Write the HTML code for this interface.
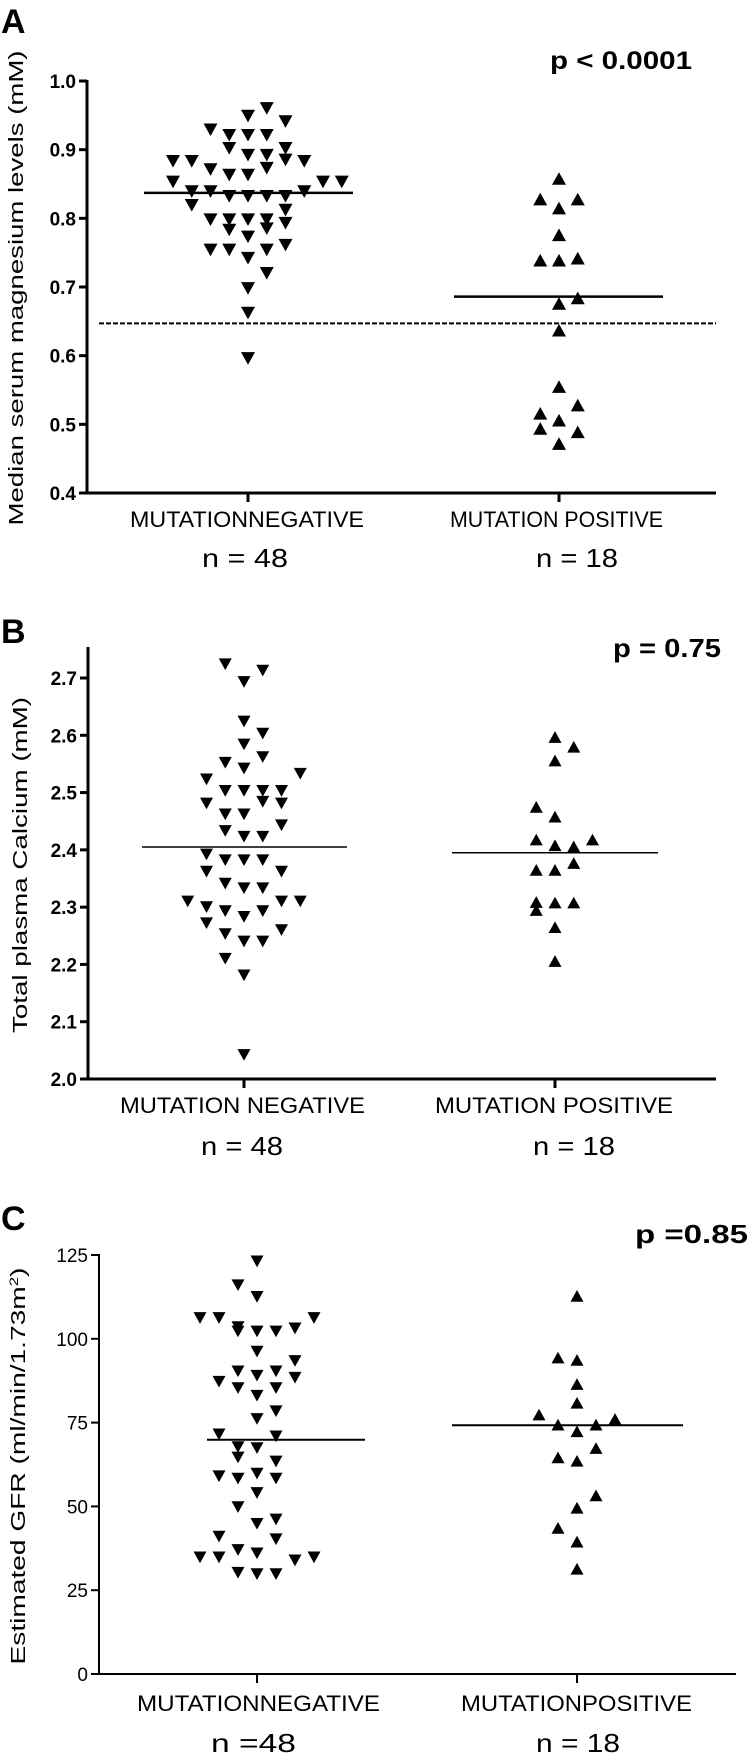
<!DOCTYPE html>
<html><head><meta charset="utf-8">
<style>
html,body{margin:0;padding:0;background:#fff;}
svg{display:block;}
text{font-family:"Liberation Sans Narrow","Liberation Sans",sans-serif;fill:#000;}
</style></head>
<body>
<svg id="fig" width="750" height="1756" viewBox="0 0 750 1756" xmlns="http://www.w3.org/2000/svg"></svg>
<script>
// ---- Panel A data (serum magnesium, mM) ----
const aNegVals=[0.96,0.949,0.941,0.929,0.921,0.921,0.921,0.902,0.902,0.892,0.892,0.885,0.883,0.883,0.883,0.873,0.871,0.863,0.863,0.853,0.853,0.853,0.839,0.839,0.839,0.832,0.832,0.832,0.832,0.819,0.812,0.798,0.798,0.798,0.798,0.793,0.783,0.785,0.773,0.761,0.754,0.754,0.754,0.742,0.72,0.698,0.662,0.596];
const aNegCols=[1,0,2,-2,-1,0,1,-1,2,0,1,2,-4,-3,3,1,-2,-1,0,-4,4,5,-3,-2,3,-1,0,1,2,-3,2,-2,-1,0,1,2,-1,1,0,2,-2,-1,1,0,1,0,0,0];
const aPosVals=[0.858,0.828,0.828,0.815,0.776,0.739,0.739,0.742,0.684,0.676,0.637,0.555,0.528,0.516,0.506,0.494,0.489,0.472];
const aPosCols=[0,-1,1,0,0,-1,0,1,1,0,0,0,1,-1,0,-1,1,0];
const aMedians=[0.837,0.686];
const aRef=0.647;
const aTicks=["0.4","0.5","0.6","0.7","0.8","0.9","1.0"];
// ---- Panel B data (plasma calcium, mM) ----
const bNegVals=[2.724,2.713,2.693,2.624,2.603,2.584,2.562,2.552,2.542,2.533,2.523,2.503,2.503,2.503,2.503,2.481,2.484,2.481,2.462,2.462,2.443,2.433,2.423,2.423,2.392,2.382,2.382,2.382,2.362,2.362,2.341,2.333,2.333,2.31,2.31,2.31,2.3,2.293,2.293,2.283,2.272,2.26,2.253,2.24,2.24,2.21,2.181,2.042];
const bNegCols=[-1,1,0,0,1,0,1,-1,0,3,-2,-1,0,1,2,-2,1,2,-1,0,2,-1,0,1,-2,-1,0,1,-2,2,-1,0,1,-3,2,3,-2,-1,1,0,-2,2,-1,0,1,-1,0,0];
const bPosVals=[2.597,2.58,2.556,2.475,2.458,2.418,2.418,2.408,2.406,2.377,2.365,2.365,2.309,2.308,2.308,2.295,2.265,2.206];
const bPosCols=[0,1,0,-1,0,-1,2,0,1,1,-1,0,-1,0,1,-1,0,0];
const bMedians=[2.405,2.395];
const bTicks=["2.0","2.1","2.2","2.3","2.4","2.5","2.6","2.7"];
// ---- Panel C data (eGFR) ----
const cNegVals=[123.1,116,112.5,106.2,106.2,106.2,103.5,103.1,102.2,102.2,102.2,96.2,93.4,90.3,90.3,89,88.4,87.2,85.3,85.3,83,78.4,76.1,71.5,70.9,67.7,67.4,64.6,63.4,59,58.3,59.8,58.3,54,49.8,46.1,44.8,41,40.2,34.8,34.8,37,36,33.9,34.8,30.2,29.8,29.8];
const cNegCols=[0,-1,0,-3,-2,3,-1,2,-1,0,1,0,2,-1,1,0,2,-2,-1,1,0,1,0,-2,1,-1,0,-1,1,-2,-1,0,1,0,-1,1,0,-2,1,-3,-2,-1,0,2,3,-1,0,1];
const cPosVals=[112.8,94.4,93.7,86.5,80.9,77.4,76.1,74.4,74.4,72.4,67.4,64.6,63.6,53.3,49.6,43.6,39.5,31.4];
const cPosCols=[0,-1,0,0,0,-2,2,-1,1,0,1,-1,0,1,0,-1,0,0];
const cMedians=[69.9,74.2];
const cTicks=["0","25","50","75","100","125"];

const NS="http://www.w3.org/2000/svg";
const svg=document.getElementById('fig');
function el(tag,attrs,parent,txt){const e=document.createElementNS(NS,tag);for(const k in attrs)e.setAttribute(k,attrs[k]);if(txt!==undefined)e.textContent=txt;(parent||svg).appendChild(e);return e;}

function panel(cfg){
  const g=el('g',{},svg);
  
  
  const y=v=>cfg.y0px+(v-cfg.vmin)/(cfg.vmax-cfg.vmin)*(cfg.y1px-cfg.y0px);
  const xNeg=c=>cfg.negX+c*cfg.colW, xPos=c=>cfg.posX+c*cfg.colW;
  const L=el('text',{x:cfg.letterX,y:cfg.letterY,'font-size':34,'font-weight':'bold','font-family':'Liberation Sans,sans-serif'},g,cfg.letter);
  
  
  const P=el('text',{x:cfg.pX,y:cfg.pY,'font-size':cfg.pFs,'font-weight':'bold',textLength:cfg.pW,lengthAdjust:'spacingAndGlyphs'},g,cfg.p);
  
  
  const ya=el('line',{x1:cfg.axX,y1:cfg.axTop,x2:cfg.axX,y2:cfg.y0px,stroke:'#000','stroke-width':cfg.sw},g);
  
  
  const xa=el('line',{x1:cfg.axX-cfg.sw/2,y1:cfg.y0px,x2:cfg.axRight,y2:cfg.y0px,stroke:'#000','stroke-width':cfg.sw},g);
  
  
  cfg.ticks.forEach(t=>{
    const v=parseFloat(t),yy=y(v);
    el('line',{x1:cfg.axX-8,y1:yy,x2:cfg.axX,y2:yy,stroke:'#000','stroke-width':cfg.sw},g);
    const tx=el('text',{x:cfg.axX-11,y:yy+7,'font-size':19,'font-weight':cfg.tickW,'text-anchor':'end'},g,t);
    
    
  });
  [cfg.negX,cfg.posX].forEach(x=>el('line',{x1:x,y1:cfg.y0px,x2:x,y2:cfg.y0px+9,stroke:'#000','stroke-width':cfg.sw},g));
  const yt=el('text',{transform:`translate(${cfg.ytX},${cfg.ytY}) rotate(-90)`,'font-size':20,'text-anchor':'middle','font-family':'Liberation Sans,sans-serif',textLength:cfg.ytLen,lengthAdjust:'spacingAndGlyphs'},g);
  
  
  yt.innerHTML=cfg.ytitle;
  cfg.cats.forEach((c,i)=>{
    const t=el('text',{x:c.x,y:cfg.catY,'font-size':22,textLength:c.w,lengthAdjust:'spacingAndGlyphs','font-family':'Liberation Sans,sans-serif'},g,c.t);
    
    
    const n=el('text',{x:c.nx,y:cfg.nY,'font-size':26,textLength:c.nw,lengthAdjust:'spacingAndGlyphs','font-family':'Liberation Sans,sans-serif'},g,c.n);
    
    
  });
  if(cfg.ref!==undefined){
    const r=el('line',{x1:cfg.refX1,y1:y(cfg.ref),x2:cfg.axRight,y2:y(cfg.ref),stroke:'#000','stroke-width':2,'stroke-dasharray':'5 2'},g);
    
    
  }
  const w=cfg.mk/2,h=cfg.mk*0.9/2;
  cfg.negVals.forEach((v,i)=>{
    const cx=xNeg(cfg.negCols[i]),cy=y(v);
    const p=el('path',{d:`M${cx-w},${cy-h}L${cx+w},${cy-h}L${cx},${cy+h}Z`,fill:'#000'},g);
    
    
  });
  cfg.posVals.forEach((v,i)=>{
    const cx=xPos(cfg.posCols[i]),cy=y(v);
    const p=el('path',{d:`M${cx-w},${cy+h}L${cx+w},${cy+h}L${cx},${cy-h}Z`,fill:'#000'},g);
    
    
  });
  cfg.medians.forEach((m,i)=>{
    const s=cfg.medSpan[i];
    const l=el('line',{x1:s[0],y1:y(m),x2:s[1],y2:y(m),stroke:'#000','stroke-width':cfg.medW},g);
    
    
  });
}

panel({id:'a',letter:'A',letterX:1,letterY:33,p:'p < 0.0001',pX:550,pY:69,pFs:25,pW:142,
  vmin:0.4,vmax:1.0,y0px:493,y1px:81,axX:87,axTop:80,axRight:716,sw:3,tickW:'bold',
  negX:248,posX:559,colW:18.75,mk:14,negVals:aNegVals,negCols:aNegCols,posVals:aPosVals,posCols:aPosCols,
  medians:aMedians,medSpan:[[144,353],[454,663]],medW:2.5,ref:aRef,refX1:99,ticks:aTicks,
  ytX:23,ytY:288,ytLen:475,ytitle:'Median  serum  magnesium  levels  (mM)',
  catY:527,nY:567,cats:[{x:130,w:234,t:'MUTATIONNEGATIVE',nx:202,nw:86,n:'n = 48'},{x:450,w:213,t:'MUTATION POSITIVE',nx:536,nw:82,n:'n = 18'}]});
panel({id:'b',letter:'B',letterX:1,letterY:643,p:'p = 0.75',pX:613,pY:657,pFs:26,pW:108,
  vmin:2.0,vmax:2.7,y0px:1079,y1px:678,axX:88,axTop:647,axRight:716,sw:3,tickW:'bold',
  negX:244,posX:555,colW:18.75,mk:13,negVals:bNegVals,negCols:bNegCols,posVals:bPosVals,posCols:bPosCols,
  medians:bMedians,medSpan:[[142,347],[452,658]],medW:1.5,ticks:bTicks,
  ytX:27,ytY:865,ytLen:336,ytitle:'Total  plasma  Calcium  (mM)',
  catY:1113,nY:1155,cats:[{x:120,w:245,t:'MUTATION NEGATIVE',nx:201,nw:82,n:'n = 48'},{x:435,w:238,t:'MUTATION POSITIVE',nx:533,nw:82,n:'n = 18'}]});
panel({id:'c',letter:'C',letterX:1,letterY:1230,p:'p =0.85',pX:635,pY:1243,pFs:26,pW:113,
  vmin:0,vmax:125,y0px:1674,y1px:1255,axX:99,axTop:1254,axRight:736,sw:2,tickW:'normal',
  negX:257,posX:577,colW:19,mk:13,negVals:cNegVals,negCols:cNegCols,posVals:cPosVals,posCols:cPosCols,
  medians:cMedians,medSpan:[[207,365],[452,683]],medW:2,ticks:cTicks,
  ytX:25,ytY:1466,ytLen:397,ytitle:'Estimated  GFR (ml/min/1.73m<tspan baseline-shift="super" font-size="12">2</tspan>)',
  catY:1711,nY:1752,cats:[{x:137,w:243,t:'MUTATIONNEGATIVE',nx:211,nw:85,n:'n =48'},{x:461,w:231,t:'MUTATIONPOSITIVE',nx:536,nw:84,n:'n = 18'}]});
</script>
</body></html>
